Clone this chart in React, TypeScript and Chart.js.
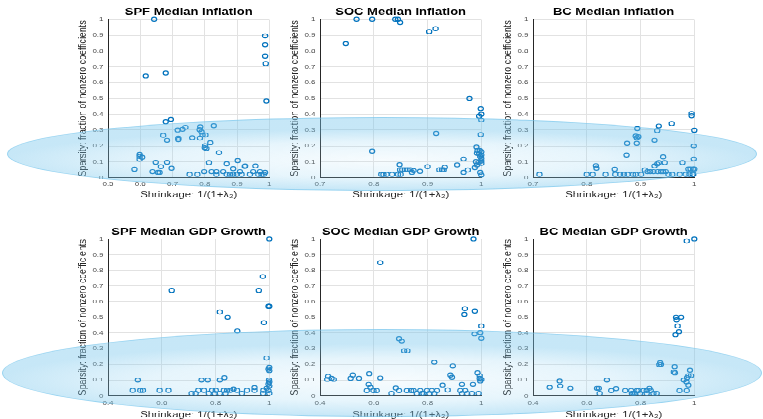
import React, { useEffect, useRef } from 'react';
import { Chart, registerables } from 'chart.js';
Chart.register(...registerables);

const FONT = '"Liberation Sans", Arial, Helvetica, sans-serif';

// ---------- data ----------
const titles = [
  'SPF Median Inflation', 'SOC Median Inflation', 'BC Median Inflation',
  'SPF Median GDP Growth', 'SOC Median GDP Growth', 'BC Median GDP Growth',
];
const xAxisTitle = 'Shrinkage: 1/(1+λ₂)';
const yAxisTitle = 'Sparsity: fraction of nonzero coefficients';

const yTicks = [0, 0.1, 0.2, 0.3, 0.4, 0.5, 0.6, 0.7, 0.8, 0.9, 1];
const yLabels = ['0', '0.1', '0.2', '0.3', '0.4', '0.5', '0.6', '0.7', '0.8', '0.9', '1'];
const xTicksSpfInfl = [0.5, 0.6, 0.7, 0.8, 0.9, 1];
const xLabelsSpfInfl = ['0.5', '0.6', '0.7', '0.8', '0.9', '1'];
const xTicksInfl = [0.7, 0.8, 0.9, 1];
const xLabelsInfl = ['0.7', '0.8', '0.9', '1'];
const xTicksGdp = [0.4, 0.6, 0.8, 1];
const xLabelsGdp = ['0.4', '0.6', '0.8', '1'];

const spfInflation: [number, number][] = [
  [0.643, 1.0], [0.987, 0.895], [0.987, 0.84], [0.987, 0.768], [0.989, 0.72], [0.991, 0.484],
  [0.617, 0.642], [0.679, 0.661], [0.695, 0.368], [0.679, 0.352], [0.828, 0.328], [0.786, 0.322],
  [0.784, 0.303], [0.74, 0.318], [0.716, 0.301], [0.731, 0.305], [0.718, 0.25], [0.718, 0.24],
  [0.671, 0.267], [0.683, 0.236], [0.761, 0.253], [0.785, 0.25], [0.79, 0.288], [0.793, 0.27],
  [0.802, 0.27], [0.817, 0.221], [0.801, 0.202], [0.805, 0.185], [0.8, 0.19], [0.844, 0.158],
  [0.598, 0.147], [0.598, 0.133], [0.606, 0.128], [0.598, 0.116], [0.648, 0.097], [0.683, 0.097],
  [0.813, 0.095], [0.902, 0.107], [0.697, 0.059], [0.582, 0.053], [0.664, 0.069], [0.638, 0.038],
  [0.655, 0.034], [0.66, 0.034], [0.868, 0.088], [0.925, 0.074], [0.957, 0.074], [0.888, 0.057],
  [0.909, 0.038], [0.798, 0.038], [0.821, 0.038], [0.836, 0.038], [0.857, 0.038], [0.753, 0.021],
  [0.777, 0.021], [0.836, 0.021], [0.868, 0.021], [0.878, 0.021], [0.888, 0.021], [0.899, 0.021],
  [0.914, 0.021], [0.94, 0.021], [0.966, 0.021], [0.976, 0.021], [0.983, 0.021], [0.95, 0.038],
  [0.971, 0.038], [0.924, 0.07], [0.987, 0.034],
];

const socInflation: [number, number][] = [
  [0.768, 1.0], [0.797, 1.0], [0.84, 1.0], [0.845, 1.0], [0.849, 0.979], [0.748, 0.846],
  [0.903, 0.922], [0.915, 0.941], [0.978, 0.501], [0.999, 0.436], [0.996, 0.389], [1.0, 0.4],
  [1.0, 0.364], [0.916, 0.28], [0.999, 0.272], [0.797, 0.168], [0.991, 0.194], [0.993, 0.171],
  [0.997, 0.171], [1.0, 0.164], [0.992, 0.154], [0.996, 0.15], [1.0, 0.143], [0.998, 0.133],
  [1.0, 0.122], [0.967, 0.118], [1.0, 0.105], [0.995, 0.097], [1.0, 0.09], [0.99, 0.101],
  [0.848, 0.082], [0.9, 0.069], [0.955, 0.08], [0.932, 0.065], [0.992, 0.08], [0.988, 0.063],
  [0.975, 0.048], [0.967, 0.034], [0.998, 0.034], [1.0, 0.017], [0.922, 0.05], [0.927, 0.05],
  [0.93, 0.05], [0.853, 0.05], [0.858, 0.05], [0.863, 0.05], [0.868, 0.05], [0.849, 0.05],
  [0.886, 0.04], [0.871, 0.034], [0.874, 0.044], [0.814, 0.021], [0.824, 0.021], [0.834, 0.021],
  [0.845, 0.021], [0.85, 0.021], [0.818, 0.021],
];

const bcInflation: [number, number][] = [
  [0.712, 0.021], [0.8, 0.021], [0.811, 0.021], [0.835, 0.021], [0.817, 0.076], [0.818, 0.059],
  [0.852, 0.053], [0.853, 0.021], [0.862, 0.021], [0.869, 0.021], [0.876, 0.021], [0.886, 0.021],
  [0.891, 0.021], [0.901, 0.021], [0.874, 0.143], [0.875, 0.217], [0.893, 0.217], [0.891, 0.263],
  [0.893, 0.253], [0.896, 0.259], [0.894, 0.309], [0.926, 0.236], [0.931, 0.297], [0.934, 0.326],
  [0.958, 0.341], [0.995, 0.406], [0.995, 0.392], [1.0, 0.299], [0.999, 0.2], [0.999, 0.118],
  [0.942, 0.131], [0.945, 0.095], [0.934, 0.095], [0.931, 0.086], [0.926, 0.074], [0.978, 0.095],
  [0.908, 0.048], [0.913, 0.038], [0.918, 0.038], [0.924, 0.038], [0.932, 0.038], [0.938, 0.038],
  [0.942, 0.038], [0.947, 0.038], [0.952, 0.021], [0.959, 0.021], [0.973, 0.021], [0.984, 0.021],
  [0.991, 0.021], [0.998, 0.021], [0.989, 0.055], [0.993, 0.055], [0.998, 0.055], [1.0, 0.055],
  [0.997, 0.021],
];

const spfGdp: [number, number][] = [
  [1.0, 1.0], [0.976, 0.76], [0.961, 0.672], [0.637, 0.672], [1.0, 0.57], [0.997, 0.57],
  [0.816, 0.534], [0.845, 0.5], [0.98, 0.466], [0.881, 0.413], [0.99, 0.24], [1.0, 0.181],
  [0.997, 0.168], [1.0, 0.16], [0.999, 0.1], [1.0, 0.089], [0.997, 0.074], [1.0, 0.062],
  [0.511, 0.1], [0.748, 0.1], [0.771, 0.1], [0.816, 0.1], [0.833, 0.115], [0.492, 0.034],
  [0.52, 0.034], [0.53, 0.034], [0.592, 0.034], [0.625, 0.034], [0.711, 0.015], [0.736, 0.034],
  [0.757, 0.034], [0.775, 0.015], [0.787, 0.034], [0.801, 0.034], [0.816, 0.015], [0.831, 0.034],
  [0.837, 0.015], [0.843, 0.034], [0.855, 0.034], [0.867, 0.043], [0.88, 0.034], [0.898, 0.015],
  [0.917, 0.034], [0.945, 0.034], [0.945, 0.051], [0.977, 0.015], [0.978, 0.034], [0.99, 0.047],
  [1.0, 0.015], [0.997, 0.032], [0.797, 0.015], [0.726, 0.015],
];

const socGdp: [number, number][] = [
  [0.971, 1.0], [0.624, 0.849], [0.939, 0.555], [0.937, 0.519], [0.976, 0.54], [1.0, 0.445],
  [0.975, 0.394], [0.996, 0.404], [1.0, 0.366], [0.694, 0.364], [0.704, 0.347], [0.713, 0.287],
  [0.725, 0.287], [0.825, 0.213], [0.894, 0.189], [0.885, 0.132], [0.891, 0.117], [0.986, 0.145],
  [0.994, 0.128], [0.994, 0.111], [1.0, 0.104], [0.996, 0.094], [0.583, 0.14], [0.43, 0.123],
  [0.427, 0.104], [0.443, 0.111], [0.451, 0.104], [0.514, 0.111], [0.522, 0.132], [0.545, 0.111],
  [0.624, 0.113], [0.581, 0.072], [0.588, 0.053], [0.574, 0.032], [0.599, 0.032], [0.611, 0.032],
  [0.682, 0.049], [0.694, 0.032], [0.666, 0.015], [0.723, 0.032], [0.739, 0.032], [0.748, 0.032],
  [0.76, 0.015], [0.785, 0.015], [0.798, 0.032], [0.807, 0.015], [0.816, 0.032], [0.825, 0.015],
  [0.835, 0.032], [0.856, 0.068], [0.875, 0.036], [0.928, 0.072], [0.969, 0.072], [0.922, 0.032],
  [0.94, 0.032], [0.928, 0.015], [0.947, 0.015], [0.965, 0.015], [0.99, 0.015], [0.773, 0.032],
  [0.779, 0.015],
];

const bcGdp: [number, number][] = [
  [1.0, 1.0], [0.972, 0.987], [0.932, 0.5], [0.951, 0.5], [0.934, 0.483], [0.938, 0.445],
  [0.943, 0.409], [0.93, 0.389], [0.873, 0.211], [0.87, 0.198], [0.876, 0.2], [0.927, 0.185],
  [0.924, 0.151], [0.928, 0.145], [0.984, 0.162], [0.978, 0.128], [0.988, 0.128], [0.973, 0.115],
  [0.961, 0.1], [0.971, 0.089], [0.978, 0.068], [0.945, 0.032], [0.972, 0.032], [0.462, 0.053],
  [0.499, 0.094], [0.501, 0.062], [0.539, 0.047], [0.638, 0.047], [0.645, 0.047], [0.648, 0.015],
  [0.675, 0.1], [0.691, 0.032], [0.709, 0.045], [0.743, 0.032], [0.765, 0.032], [0.774, 0.015],
  [0.786, 0.032], [0.798, 0.015], [0.811, 0.032], [0.823, 0.015], [0.833, 0.047], [0.838, 0.032],
  [0.848, 0.015], [0.86, 0.015], [0.78, 0.015], [0.792, 0.032], [0.823, 0.032], [0.768, 0.015],
];

// ---------- layout ----------
const SCALE_Y = 0.78;
const FULL_W = 763;
const FULL_H = 419;
const colLeft = [73, 285, 498];
const CANVAS_W = 206;
const rowTop = [0, 285];
const rowH = [259, 256];
const titlePad = [{ top: 7.6, bottom: 1.5 }, { top: 4.2, bottom: 1.6 }];
const xAxisH = [31.2, 33.7];
const xTickPad = [3.5, 4.5];
const xTitlePadBottom = [2, 2.2];

type Panel = {
  title: string; data: [number, number][]; xMin: number; xMax: number;
  xTicks: number[]; xLabels: string[]; row: number; col: number;
};

const panels: Panel[] = [
  { title: titles[0], data: spfInflation, xMin: 0.5, xMax: 1, xTicks: xTicksSpfInfl, xLabels: xLabelsSpfInfl, row: 0, col: 0 },
  { title: titles[1], data: socInflation, xMin: 0.7, xMax: 1, xTicks: xTicksInfl, xLabels: xLabelsInfl, row: 0, col: 1 },
  { title: titles[2], data: bcInflation, xMin: 0.7, xMax: 1, xTicks: xTicksInfl, xLabels: xLabelsInfl, row: 0, col: 2 },
  { title: titles[3], data: spfGdp, xMin: 0.4, xMax: 1, xTicks: xTicksGdp, xLabels: xLabelsGdp, row: 1, col: 0 },
  { title: titles[4], data: socGdp, xMin: 0.4, xMax: 1, xTicks: xTicksGdp, xLabels: xLabelsGdp, row: 1, col: 1 },
  { title: titles[5], data: bcGdp, xMin: 0.4, xMax: 1, xTicks: xTicksGdp, xLabels: xLabelsGdp, row: 1, col: 2 },
];

const GRID = '#e2e2e2';
const AXIS = '#262626';
const TICK = '#4a4a4a';
const MARK = '#0072BD';

function makeConfig(p: Panel): any {
  const r = p.row;
  return {
    type: 'scatter',
    data: {
      datasets: [{
        data: p.data.map(([x, y]) => ({ x, y })),
        pointStyle: 'circle',
        pointRadius: 2.6,
        pointBorderWidth: 1.2,
        borderColor: MARK,
        backgroundColor: 'rgba(0,0,0,0)',
        clip: false,
      }],
    },
    options: {
      responsive: false,
      animation: false,
      events: [],
      layout: { padding: { left: 0, top: 0, right: 9.7, bottom: 0 } },
      plugins: {
        legend: { display: false },
        tooltip: { enabled: false },
        title: {
          display: true,
          fullSize: false,
          text: p.title,
          color: '#000',
          font: { family: FONT, size: 13, weight: 'bold', lineHeight: 1.2 },
          padding: titlePad[r],
        },
      },
      scales: {
        x: {
          type: 'linear',
          min: p.xMin,
          max: p.xMax,
          afterFit: (s: any) => { s.height = xAxisH[r]; },
          afterBuildTicks: (ax: any) => { ax.ticks = p.xTicks.map((v) => ({ value: v })); },
          ticks: {
            autoSkip: false,
            maxRotation: 0,
            padding: xTickPad[r],
            color: TICK,
            font: { family: FONT, size: 8, lineHeight: 1.2 },
            callback: (_v: any, i: number) => p.xLabels[i],
          },
          grid: { color: GRID, lineWidth: 1, drawTicks: false },
          border: { display: true, color: AXIS, width: 1 },
          title: {
            display: true,
            text: xAxisTitle,
            color: AXIS,
            font: { family: FONT, size: 11.3, lineHeight: 1.2 },
            padding: { top: 0, bottom: xTitlePadBottom[r] },
          },
        },
        y: {
          type: 'linear',
          min: 0,
          max: 1,
          afterFit: (s: any) => { s.width = 35; },
          afterBuildTicks: (ax: any) => { ax.ticks = yTicks.map((v) => ({ value: v })); },
          ticks: {
            autoSkip: false,
            padding: 4.5,
            color: TICK,
            font: { family: FONT, size: 8, lineHeight: 1.2 },
            callback: (_v: any, i: number) => yLabels[i],
          },
          grid: { color: GRID, lineWidth: 1, drawTicks: false },
          border: { display: true, color: AXIS, width: 1 },
          title: {
            display: true,
            text: yAxisTitle,
            color: AXIS,
            font: { family: FONT, size: 11.3, lineHeight: 1.2 },
            padding: { top: 3, bottom: 0 },
          },
        },
      },
    },
  };
}

function PanelChart({ p }: { p: Panel }) {
  const ref = useRef<HTMLCanvasElement | null>(null);
  useEffect(() => {
    if (!ref.current) return;
    const chart = new Chart(ref.current, makeConfig(p));
    return () => chart.destroy();
  }, [p]);
  return (
    <canvas
      ref={ref}
      width={CANVAS_W}
      height={rowH[p.row]}
      style={{ position: 'absolute', left: colLeft[p.col], top: rowTop[p.row] }}
    />
  );
}

const ellipses = [
  { cx: 382, cy: 153.5, rx: 375, ry: 37 },
  { cx: 382, cy: 373, rx: 380, ry: 44 },
];

export default function App() {
  return (
    <div style={{ position: 'absolute', left: 0, top: 0, width: FULL_W, height: FULL_H, overflow: 'hidden', background: '#fff' }}>
      <div
        style={{
          position: 'absolute', left: 0, top: 0, width: FULL_W, height: FULL_H / SCALE_Y,
          transform: `scaleY(${SCALE_Y})`, transformOrigin: '0 0',
        }}
      >
        {panels.map((p, i) => <PanelChart key={i} p={p} />)}
      </div>
      {ellipses.map((e, i) => (
        <div
          key={'e' + i}
          style={{
            position: 'absolute',
            left: e.cx - e.rx,
            top: e.cy - e.ry,
            width: e.rx * 2,
            height: e.ry * 2,
            boxSizing: 'border-box',
            borderRadius: '50%',
            border: '1.5px solid rgba(120,198,236,0.6)',
            background: 'radial-gradient(closest-side ellipse at 50% 58%, rgba(200,232,248,0.15) 0%, rgba(150,212,242,0.24) 60%, rgba(120,198,236,0.42) 100%)',
            pointerEvents: 'none',
          }}
        />
      ))}
    </div>
  );
}
